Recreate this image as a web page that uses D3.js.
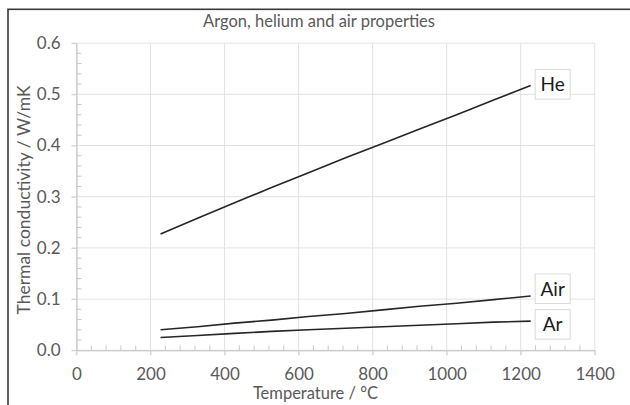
<!DOCTYPE html>
<html>
<head>
<meta charset="utf-8">
<script src="https://cdn.jsdelivr.net/npm/d3@7"></script>
<style>
  body { margin: 0; background: #fff; }
  svg { display: block; font-family: Lato, "Open Sans", sans-serif; }
</style>
</head>
<body>
<div id="chart-area"></div>
<script>
const width = 630, height = 405;
const margin = ({top: 43, right: 35, bottom: 55, left: 76.5});

// Data (temperature in °C, conductivity in W/mK)
const temperatures = [227, 327, 427, 527, 627, 727, 827, 927, 1027, 1127, 1227];
const helium = [0.227, 0.258, 0.288, 0.318, 0.347, 0.376, 0.404, 0.432, 0.460, 0.489, 0.517];
const air = [0.040, 0.046, 0.053, 0.059, 0.066, 0.072, 0.079, 0.086, 0.092, 0.099, 0.106];
const argon = [0.025, 0.029, 0.033, 0.037, 0.040, 0.043, 0.046, 0.049, 0.052, 0.055, 0.057];
const seriesNames = ["He", "Air", "Ar"];
const xTicks = [0, 200, 400, 600, 800, 1000, 1200, 1400];
const yTicks = [0.0, 0.1, 0.2, 0.3, 0.4, 0.5, 0.6];

const series = [
    {name: seriesNames[0], values: helium, dy: -1},
    {name: seriesNames[1], values: air, dy: -7},
    {name: seriesNames[2], values: argon, dy: 3.5}
];

const x = d3.scaleLinear()
    .domain([0, 1400])
    .range([margin.left, 594.7]);

const y = d3.scaleLinear()
    .domain([0, 0.6])
    .range([350.3, 43.1]);

const svg = d3.select("#chart-area").append("svg")
    .attr("width", width)
    .attr("height", height);

// Outer chart frame (only top and left edges visible)
svg.append("rect")
    .attr("x", 8).attr("y", 9.3)
    .attr("width", 700).attr("height", 500)
    .attr("fill", "none")
    .attr("stroke", "#3a3a3a")
    .attr("stroke-width", 1.6);

// Title
svg.append("text")
    .attr("x", 319).attr("y", 27)
    .attr("text-anchor", "middle")
    .attr("font-size", 16.5)
    .attr("fill", "#595959")
    .text("Argon, helium and air properties");

// Gridlines
svg.append("g")
    .selectAll("line")
    .data(xTicks)
    .join("line")
    .attr("x1", d => x(d)).attr("x2", d => x(d))
    .attr("y1", y(0.6)).attr("y2", y(0) + 5)
    .attr("stroke", "#e2e2e2");

svg.append("g")
    .selectAll("line")
    .data(yTicks)
    .join("line")
    .attr("x1", x(0) - 5).attr("x2", x(1400))
    .attr("y1", d => y(d)).attr("y2", d => y(d))
    .attr("stroke", "#e2e2e2");

// Minor ticks (inside)
const xMinor = d3.range(0, 1401, 40).filter(d => d % 200 !== 0);
const yMinor = d3.range(0, 31, 1).map(i => i * 0.02).filter((d, i) => i % 5 !== 0);

svg.append("g")
    .selectAll("line")
    .data(xMinor)
    .join("line")
    .attr("x1", d => x(d)).attr("x2", d => x(d))
    .attr("y1", y(0) - 5).attr("y2", y(0))
    .attr("stroke", "#c8c8c8");

svg.append("g")
    .selectAll("line")
    .data(yMinor)
    .join("line")
    .attr("x1", x(0)).attr("x2", x(0) + 5)
    .attr("y1", d => y(d)).attr("y2", d => y(d))
    .attr("stroke", "#c8c8c8");

// Axes
const xAxis = (g) => g
    .attr("transform", `translate(0,${y(0)})`)
    .call(d3.axisBottom(x).tickValues(xTicks).tickFormat(d3.format("d")).tickSize(5).tickSizeOuter(0).tickPadding(13))
    .call(g => g.select(".domain").attr("stroke", "#bfbfbf"))
    .call(g => g.selectAll(".tick line").attr("stroke", "#d0d0d0"))
    .call(g => g.selectAll(".tick text")
        .attr("fill", "#595959")
        .attr("font-size", 17)
        .attr("font-family", "Lato, sans-serif"));

const yAxis = (g) => g
    .attr("transform", `translate(${x(0)},0)`)
    .call(d3.axisLeft(y).tickValues(yTicks).tickFormat(d3.format(".1f")).tickSize(5).tickSizeOuter(0).tickPadding(11))
    .call(g => g.select(".domain").attr("stroke", "#bfbfbf"))
    .call(g => g.selectAll(".tick line").attr("stroke", "#d0d0d0"))
    .call(g => g.selectAll(".tick text")
        .attr("fill", "#595959")
        .attr("font-size", 17)
        .attr("font-family", "Lato, sans-serif"));

svg.append("g").call(xAxis);
svg.append("g").call(yAxis);

// Axis titles
svg.append("text")
    .attr("x", 315.5).attr("y", 399)
    .attr("text-anchor", "middle")
    .attr("font-size", 16.5)
    .attr("fill", "#595959")
    .text("Temperature / °C");

svg.append("text")
    .attr("transform", "translate(30,200) rotate(-90)")
    .attr("text-anchor", "middle")
    .attr("font-size", 17.5)
    .attr("fill", "#595959")
    .text("Thermal conductivity / W/mK");

// Lines
const line = d3.line()
    .x((d, i) => x(temperatures[i]))
    .y(d => y(d));

svg.append("g")
    .selectAll("path")
    .data(series)
    .join("path")
    .attr("d", d => line(d.values))
    .attr("fill", "none")
    .attr("stroke", "#262626")
    .attr("stroke-width", 1.6)
    .attr("stroke-linejoin", "round");

// End labels in boxes
const labels = svg.append("g")
    .selectAll("g")
    .data(series)
    .join("g")
    .attr("transform", d => {
        const last = d.values.length - 1;
        return `translate(${x(temperatures[last]) + 4.5},${y(d.values[last]) + d.dy})`;
    });

labels.append("rect")
    .attr("x", 0).attr("y", -15)
    .attr("width", 35).attr("height", 29.5)
    .attr("fill", "#fff")
    .attr("stroke", "#d9d9d9");

labels.append("text")
    .attr("x", 17.5).attr("y", 0)
    .attr("dy", "0.36em")
    .attr("text-anchor", "middle")
    .attr("font-size", 19)
    .attr("fill", "#1a1a1a")
    .text(d => d.name);
</script>
</body>
</html>
